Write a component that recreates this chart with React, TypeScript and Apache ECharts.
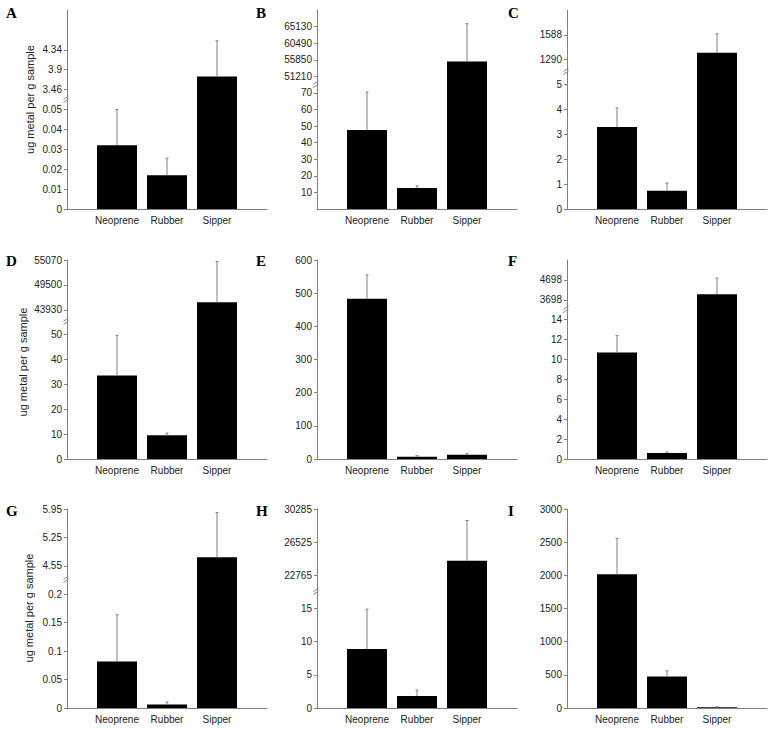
import React, { useEffect, useRef } from 'react';
import * as echarts from 'echarts';

const categories = ['Neoprene', 'Rubber', 'Sipper'];
const panelLetters = ['A', 'B', 'C', 'D', 'E', 'F', 'G', 'H', 'I'];
const yAxisName = 'ug metal per g sample';

// Panel A
const meanA = [0.032, 0.017, 3.75];
const errA = [0.018, 0.0085, 0.79];
const lowerTicksA = [0, 0.01, 0.02, 0.03, 0.04, 0.05];
const upperTicksA = [3.46, 3.9, 4.34];
const topA = 0.1;
// Panel B
const meanB = [47.6, 12.6, 55340];
const errB = [22.9, 1.4, 10600];
const lowerTicksB = [10, 20, 30, 40, 50, 60, 70];
const upperTicksB = [51210, 55850, 60490, 65130];
const topB = 120;
// Panel C
const meanC = [3.3, 0.73, 1373];
const errC = [0.76, 0.31, 227];
const lowerTicksC = [0, 1, 2, 3, 4, 5];
const upperTicksC = [1290, 1588];
const topC = 8;
// Panel D
const meanD = [33.6, 9.5, 45630];
const errD = [16.1, 0.9, 9110];
const lowerTicksD = [0, 10, 20, 30, 40, 50];
const upperTicksD = [43930, 49500, 55070];
const topD = 80;
// Panel E
const meanE = [483, 7, 13];
const errE = [72, 3, 3];
const lowerTicksE = [0, 100, 200, 300, 400, 500, 600];
const upperTicksE: number[] = [];
const topE = 600;
// Panel F
const meanF = [10.7, 0.6, 3983];
const errF = [1.7, 0.1, 805];
const lowerTicksF = [0, 2, 4, 6, 8, 10, 12, 14];
const upperTicksF = [3698, 4698];
const topF = 20;
// Panel G
const meanG = [0.082, 0.006, 4.76];
const errG = [0.082, 0.0045, 1.1];
const lowerTicksG = [0, 0.05, 0.1, 0.15, 0.2];
const upperTicksG = [4.55, 5.25, 5.95];
const topG = 0.35;
// Panel H
const meanH = [8.9, 1.8, 24420];
const errH = [6, 0.9, 4560];
const lowerTicksH = [0, 5, 10, 15];
const upperTicksH = [22765, 26525, 30285];
const topH = 30;
// Panel I
const meanI = [2017, 476, 10];
const errI = [542, 85, 10];
const lowerTicksI = [0, 500, 1000, 1500, 2000, 2500, 3000];
const upperTicksI: number[] = [];
const topI = 3000;

const panels = [
  { mean: meanA, err: errA, lower: lowerTicksA, upper: upperTicksA, top: topA },
  { mean: meanB, err: errB, lower: lowerTicksB, upper: upperTicksB, top: topB },
  { mean: meanC, err: errC, lower: lowerTicksC, upper: upperTicksC, top: topC },
  { mean: meanD, err: errD, lower: lowerTicksD, upper: upperTicksD, top: topD },
  { mean: meanE, err: errE, lower: lowerTicksE, upper: upperTicksE, top: topE },
  { mean: meanF, err: errF, lower: lowerTicksF, upper: upperTicksF, top: topF },
  { mean: meanG, err: errG, lower: lowerTicksG, upper: upperTicksG, top: topG },
  { mean: meanH, err: errH, lower: lowerTicksH, upper: upperTicksH, top: topH },
  { mean: meanI, err: errI, lower: lowerTicksI, upper: upperTicksI, top: topI },
];

const colLeft = [67, 317, 567];
const rowBottom = [209, 459, 708];
const plotH = 199;
const plotW = 200;
const axisColor = '#808080';
const textColor = '#222';
const FONT = 'Liberation Sans, Arial, sans-serif';

const fmt = (v: number) => String(parseFloat(Number(v).toPrecision(6)));

const errRender = (params: any, api: any) => {
  const x = api.value(0);
  const p0 = api.coord([x, api.value(1)]);
  const p1 = api.coord([x, api.value(2)]);
  const st = { stroke: axisColor, lineWidth: 1 };
  return {
    type: 'group',
    children: [
      { type: 'line', shape: { x1: p0[0], y1: p0[1], x2: p1[0], y2: p1[1] }, style: st },
      { type: 'line', shape: { x1: p1[0] - 1.5, y1: p1[1], x2: p1[0] + 1.5, y2: p1[1] }, style: st },
    ],
  };
};

function buildOption() {
  const grid: any[] = [];
  const xAxis: any[] = [];
  const yAxis: any[] = [];
  const series: any[] = [];
  const graphic: any[] = [];

  const letterX = [6, 256, 508];
  const letterY = [13, 261, 511];

  panels.forEach((p, i) => {
    const r = Math.floor(i / 3);
    const c = i % 3;
    const left = colLeft[c];
    const bottom = rowBottom[r];
    const top0 = bottom - plotH;
    const lt = p.lower;
    const ut = p.upper;
    const ls = lt[1] - lt[0];
    const last = lt[lt.length - 1];
    const hasBreak = ut.length > 0;
    const brk = hasBreak ? last + ls / 2 : p.top;
    const by = Math.round(bottom - (plotH * brk) / p.top);
    const lowerH = bottom - by;
    const upperH = by - top0;
    // value at the rounded break position (lower units)
    const brkVal = (lowerH / plotH) * p.top;

    // lower grid
    const gi = grid.length;
    grid.push({ left, top: by, width: plotW, height: lowerH, containLabel: false, outerBoundsMode: 'none' });
    xAxis.push({
      type: 'value', gridIndex: gi, min: 0, max: 4,
      axisLine: { show: true, onZero: false, lineStyle: { color: axisColor, width: 1 } },
      axisTick: { show: false },
      splitLine: { show: false },
      axisLabel: {
        customValues: [1, 2, 3], margin: 6, fontSize: 10, fontFamily: FONT, color: textColor,
        formatter: (v: number) => categories[Math.round(v) - 1] ?? '',
      },
    });
    yAxis.push({
      type: 'value', gridIndex: gi, min: 0, max: brkVal,
      axisLine: { show: true, onZero: false, lineStyle: { color: axisColor, width: 1 } },
      axisTick: { show: true, inside: false, length: 3, customValues: lt, lineStyle: { color: axisColor } },
      axisLabel: { customValues: lt, margin: 5, fontSize: 10, fontFamily: FONT, color: textColor, formatter: fmt },
      splitLine: { show: false },
    });
    series.push({
      type: 'bar', xAxisIndex: gi, yAxisIndex: gi, barWidth: 40, clip: true,
      itemStyle: { color: '#000' },
      data: p.mean.map((v, j) => [j + 1, v]),
    });
    series.push({
      type: 'custom', xAxisIndex: gi, yAxisIndex: gi, renderItem: errRender, z: 5,
      data: p.mean.map((v, j) => (v <= brkVal ? [j + 1, v, v + p.err[j]] : null)).filter((d) => d),
    });

    if (hasBreak) {
      const us = ut[1] - ut[0];
      // upper axis: first upper tick sits one lower step above the last lower tick
      const toUpper = (d: number) => ut[0] + ((d - (last + ls)) / ls) * us;
      const upMin = toUpper(brkVal);
      const upMax = toUpper(p.top);
      const gu = grid.length;
      grid.push({ left, top: top0, width: plotW, height: upperH, containLabel: false, outerBoundsMode: 'none' });
      xAxis.push({ type: 'value', gridIndex: gu, min: 0, max: 4, show: false });
      yAxis.push({
        type: 'value', gridIndex: gu, min: upMin, max: upMax,
        axisLine: { show: true, onZero: false, lineStyle: { color: axisColor, width: 1 } },
        axisTick: { show: true, inside: false, length: 3, customValues: ut, lineStyle: { color: axisColor } },
        axisLabel: { customValues: ut, margin: 5, fontSize: 10, fontFamily: FONT, color: textColor, formatter: fmt },
        splitLine: { show: false },
      });
      series.push({
        type: 'bar', xAxisIndex: gu, yAxisIndex: gu, barWidth: 40, clip: true,
        itemStyle: { color: '#000' },
        data: p.mean.map((v, j) => (v > brkVal ? [j + 1, v] : null)).filter((d) => d),
      });
      series.push({
        type: 'custom', xAxisIndex: gu, yAxisIndex: gu, renderItem: errRender, z: 5,
        data: p.mean.map((v, j) => (v > brkVal ? [j + 1, v, v + p.err[j]] : null)).filter((d) => d),
      });
      // break mark
      const st = { stroke: axisColor, lineWidth: 1 };
      graphic.push({ type: 'line', silent: true, z: 10, shape: { x1: left - 3.5, y1: by - 0.5, x2: left + 1.5, y2: by - 4 }, style: st });
      graphic.push({ type: 'line', silent: true, z: 10, shape: { x1: left - 3.5, y1: by + 2.5, x2: left + 1.5, y2: by - 1 }, style: st });
    }

    graphic.push({
      type: 'text', silent: true, x: letterX[c], y: letterY[r],
      style: { text: panelLetters[i], font: 'bold 15px "Liberation Serif", "Times New Roman", serif', fill: '#000', verticalAlign: 'middle', align: 'left' },
    });
  });

  const nameX = [30, 23, 29];
  const nameY = [99.5, 362, 608];
  for (let r = 0; r < 3; r++) {
    graphic.push({
      type: 'text', silent: true, x: nameX[r], y: nameY[r], rotation: Math.PI / 2,
      style: { text: yAxisName, font: '11px ' + FONT, fill: textColor, align: 'center', verticalAlign: 'middle' },
    });
  }

  return { animation: false, backgroundColor: '#fff', grid, xAxis, yAxis, series, graphic };
}

export default function App() {
  const ref = useRef<HTMLDivElement>(null);
  useEffect(() => {
    if (!ref.current) return;
    const chart = echarts.init(ref.current, undefined, { renderer: 'svg' });
    chart.setOption(buildOption() as any);
    return () => chart.dispose();
  }, []);
  return <div ref={ref} style={{ position: 'absolute', left: 0, top: 0, width: 771, height: 729 }} />;
}
